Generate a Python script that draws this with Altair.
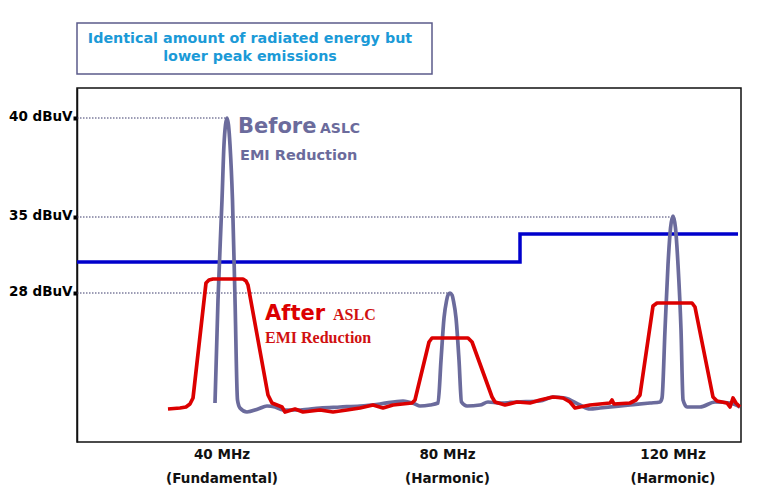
import altair as alt
import pandas as pd

# ---- data (x = frequency in MHz, y = relative display level, schematic) ----
before_mhz = [38.76, 39.29, 40.00, 40.35, 40.62, 40.89, 41.15, 41.42, 41.86, 42.31, 42.75, 43.19,
              44.43, 46.39, 47.98, 49.40, 50.82, 53.84, 57.38, 60.93, 64.48, 68.03, 72.11, 74.23,
              75.12, 76.89, 78.32, 78.85, 79.38, 79.82, 80.09, 80.44, 80.80, 81.06, 81.51, 82.04,
              82.48, 83.46, 85.76, 87.18, 89.31, 92.33, 96.41, 98.71, 100.84, 103.50, 105.27,
              107.05, 112.37, 115.92, 117.69, 118.05, 118.58, 119.11, 119.56, 120.00, 120.44,
              120.89, 121.42, 121.78, 122.49, 124.79, 127.45, 130.11, 131.88]
before_lvl = [39, 142, 242, 297, 317, 324, 317, 297, 242, 142, 42, 34,
              30, 33, 36, 35, 32, 32, 34, 35, 36, 38, 41, 38,
              36, 37, 39, 82, 124, 141, 147, 149, 147, 141, 124, 82,
              40, 36, 37, 40, 39, 40, 41, 45, 44, 37, 33,
              34, 37, 39, 40, 44, 112, 177, 214, 226, 214,
              177, 112, 42, 35, 35, 40, 39, 35]

after_mhz = [30.42, 32.55, 33.61, 34.32, 34.86, 37.16, 37.69, 38.40, 43.72, 44.26, 44.61, 48.16,
             48.87, 50.64, 51.18, 52.95, 54.37, 57.38, 59.69, 62.17, 64.48, 66.78, 68.56, 70.33,
             73.70, 74.23, 76.72, 77.25, 83.64, 84.35, 87.90, 88.43, 90.20, 92.33, 94.63, 96.41,
             98.71, 100.49, 101.73, 102.62, 105.27, 108.82, 109.18, 109.53, 112.37, 113.43,
             114.14, 116.45, 117.16, 123.37, 123.90, 127.09, 127.80, 129.57, 130.11, 130.64,
             131.17, 131.88]
after_lvl = [33, 34, 35, 38, 44, 159, 162, 163, 163, 161, 157, 47,
             39, 35, 30, 33, 30, 32, 30, 32, 34, 37, 34, 37,
             39, 42, 100, 104, 104, 100, 45, 40, 37, 40, 39, 42,
             45, 44, 40, 34, 37, 39, 42, 38, 39, 42,
             47, 136, 139, 139, 135, 45, 41, 39, 35, 44,
             39, 35]

limit_mhz = [14.28, 92.86, 131.53]
limit_lvl = [180, 208, 208]

ref_labels = ["40 dBuV", "35 dBuV", "28 dBuV"]
ref_lvl = [324, 225, 149]
ref_peak_mhz = [40.89, 120.00, 80.44]

freq_mhz = [40, 80, 120]
freq_labels = ["40 MHz", "80 MHz", "120 MHz"]
freq_notes = ["(Fundamental)", "(Harmonic)", "(Harmonic)"]

title_text = "Identical amount of radiated energy but\nlower peak emissions"

X_DOMAIN = [14.28, 132.06]
Y_DOMAIN = [0, 354]

SLATE = "#6b6b9c"
RED = "#dc0000"
BLUE = "#0000cc"
FONT = "DejaVu Sans"

xs = alt.Scale(domain=X_DOMAIN, nice=False, zero=False)
ys = alt.Scale(domain=Y_DOMAIN, nice=False, zero=False)

label_map = "{" + ", ".join(f"'{v}': '{t}'" for v, t in zip(ref_lvl, ref_labels)) + "}"
yaxis = alt.Axis(values=ref_lvl, labelExpr=f"{label_map}[datum.value + '']",
                 title=None, grid=False, domain=True, domainColor="#111", domainWidth=1.5,
                 ticks=True, tickColor="#000", tickSize=4, tickWidth=4,
                 labelFont=FONT, labelFontWeight="bold", labelFontSize=13.5, labelColor="#000",
                 labelPadding=1, labelBaseline="alphabetic", labelOffset=2)

def X(f="mhz"):
    return alt.X(f"{f}:Q", scale=xs, axis=None)

def Y(f="lvl"):
    return alt.Y(f"{f}:Q", scale=ys, axis=yaxis)

before_df = pd.DataFrame({"mhz": before_mhz, "lvl": before_lvl, "i": range(len(before_mhz))})
after_df = pd.DataFrame({"mhz": after_mhz, "lvl": after_lvl, "i": range(len(after_mhz))})
limit_df = pd.DataFrame({"mhz": limit_mhz, "lvl": limit_lvl})
ref_df = pd.DataFrame({"lvl": ref_lvl, "peak": ref_peak_mhz, "start": [X_DOMAIN[0]] * 3})
freq_df = pd.DataFrame({"mhz": freq_mhz, "lab": freq_labels, "note": freq_notes})
one = pd.DataFrame({"t": [title_text]})

dotted = alt.Chart(ref_df).mark_rule(color="#3b3b6b", strokeWidth=1, strokeDash=[1.5, 1.5]).encode(
    x=X("start"), x2="peak:Q", y=Y())

limit = alt.Chart(limit_df).mark_line(color=BLUE, strokeWidth=3.5, interpolate="step-after").encode(
    x=X(), y=Y())

before = alt.Chart(before_df).mark_line(color=SLATE, strokeWidth=3.7, interpolate="monotone").encode(
    x=X(), y=Y(), order="i:Q")

after = alt.Chart(after_df).mark_line(color=RED, strokeWidth=3.7, interpolate="linear",
                                      strokeJoin="round").encode(
    x=X(), y=Y(), order="i:Q")

# annotations
anno_before = pd.DataFrame({"mhz": [42.84], "lvl": [309], "t": ["Before"]})
anno_before_aslc = pd.DataFrame({"mhz": [57.38], "lvl": [309], "t": ["ASLC"]})
anno_before_emi = pd.DataFrame({"mhz": [43.19], "lvl": [282], "t": ["EMI Reduction"]})
anno_after = pd.DataFrame({"mhz": [47.63], "lvl": [122], "t": ["After"]})
anno_after_aslc = pd.DataFrame({"mhz": [59.69], "lvl": [122], "t": ["ASLC"]})
anno_after_emi = pd.DataFrame({"mhz": [47.63], "lvl": [99], "t": ["EMI Reduction"]})

def txt(df, size, color, font=FONT):
    return alt.Chart(df).mark_text(align="left", baseline="alphabetic", font=font, fontWeight="bold",
                                   fontSize=size, color=color).encode(x=X(), y=Y(), text="t:N")

annos = [
    txt(anno_before, 21, SLATE),
    txt(anno_before_aslc, 14, SLATE),
    txt(anno_before_emi, 14.5, SLATE),
    txt(anno_after, 21, RED),
    txt(anno_after_aslc, 16, "#d01010", "Liberation Serif"),
    txt(anno_after_emi, 16, "#d01010", "Liberation Serif"),
]

freq1 = alt.Chart(freq_df).mark_text(baseline="alphabetic", font=FONT, fontWeight="bold",
                                     fontSize=13.5, color="#111").encode(
    x=X(), y=alt.value(371), text="lab:N")
freq2 = alt.Chart(freq_df).mark_text(baseline="alphabetic", font=FONT, fontWeight="bold",
                                     fontSize=13.5, color="#111").encode(
    x=X(), y=alt.value(395), text="note:N")

box = alt.Chart(one).mark_rect(filled=False, stroke="#5b5b8b", strokeWidth=1.5).encode(
    x=alt.value(0), x2=alt.value(355), y=alt.value(-65), y2=alt.value(-14))
title = alt.Chart(one).mark_text(lineBreak="\n", lineHeight=18, font=FONT, fontWeight="bold",
                                 fontSize=14.3, color="#1b9ad7", align="center", baseline="alphabetic").encode(
    x=alt.value(173), y=alt.value(-45), text="t:N")

chart = alt.layer(dotted, limit, before, after, *annos, freq1, freq2, box, title).properties(
    width=664, height=354,
    padding={"left": 69, "top": 80, "right": 20, "bottom": 58},
    autosize=alt.AutoSizeParams(type="none"),
    background="white",
).configure_view(stroke="#111", strokeWidth=1.5)

chart.save("out.html", embed_options={"renderer": "svg", "actions": False})
